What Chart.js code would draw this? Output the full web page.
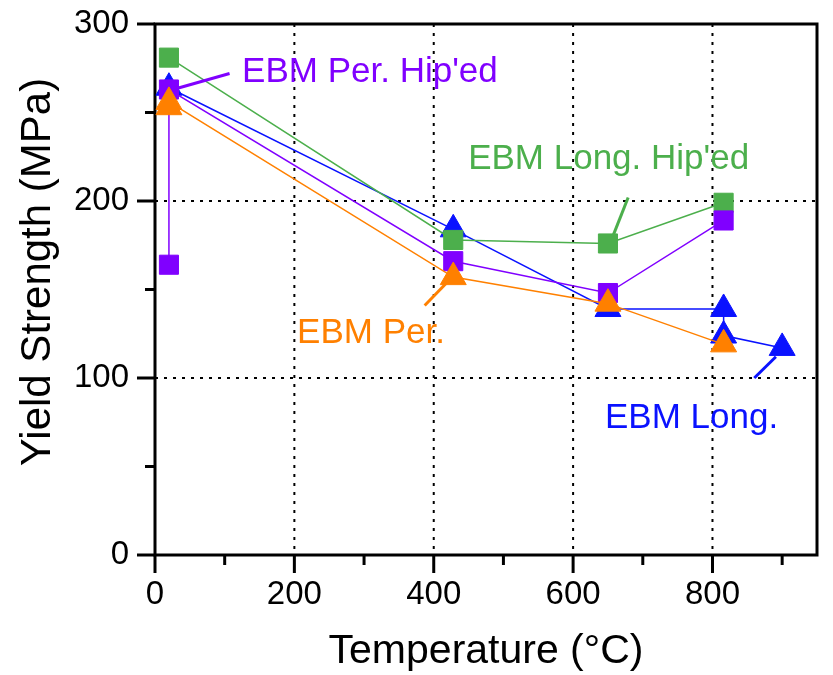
<!DOCTYPE html>
<html lang="en">
<head>
<meta charset="UTF-8">
<title>Yield strength vs temperature</title>
<script src="https://cdn.jsdelivr.net/npm/chart.js"></script>
<style>
  body { margin: 0; background: #fff; }
  canvas { display: block; }
</style>
</head>
<body>
<canvas id="ysChart" width="833" height="675"></canvas>
<script>
// yield strength (MPa) against test temperature (°C)
const longTemp = [20, 428, 650, 816, 816, 900];
const longYS   = [264, 184, 139, 139, 124, 117];

const longHipTemp = [20, 428, 650, 816];
const longHipYS   = [281, 178, 176, 199];

const perHipTemp = [20, 20, 428, 650, 816];
const perHipYS   = [164, 263, 166, 148, 189];

const perTemp = [20, 20, 428, 650, 816];
const perYS   = [253, 256, 157, 142, 119];

// tick values
const xMajor = [0, 200, 400, 600, 800];
const xMinor = [100, 300, 500, 700, 900];
const yMajor = [0, 100, 200, 300];
const yMinor = [50, 150, 250];

const xTitle = 'Temperature (°C)';
const yTitle = 'Yield Strength (MPa)';

const BLUE = '#0a12ff', GREEN = '#4caf4c', PURPLE = '#8000ff', ORANGE = '#ff8000';
const FONT = '"Liberation Sans", Arial, Helvetica, sans-serif';

// callout text with its leader line, both in data units
const callouts = [
  { text: "EBM Per. Hip'ed",  color: PURPLE, align: 'left',   at: [125, 267], from: [107, 272], to: [26, 263] },
  { text: "EBM Long. Hip'ed", color: GREEN,  align: 'center', at: [651, 218], from: [679, 202], to: [657, 180] },
  { text: 'EBM Per.',         color: ORANGE, align: 'center', at: [310, 120], from: [387, 141], to: [419, 154] },
  { text: 'EBM Long.',        color: BLUE,   align: 'center', at: [770, 72],  from: [860, 100], to: [891, 112] }
];

const pts = (xs, ys) => xs.map((v, i) => ({ x: v, y: ys[i] }));

function series(label, xs, ys, color, style, radius, order) {
  return {
    label, data: pts(xs, ys), order,
    borderColor: color, backgroundColor: color,
    borderWidth: 1.5, tension: 0,
    pointStyle: style, pointRadius: radius,
    pointBorderWidth: 1, pointBorderColor: color, pointBackgroundColor: color
  };
}

const leaders = callouts.map(c => ({
  label: c.text + ' leader',
  data: [{ x: c.from[0], y: c.from[1] }, { x: c.to[0], y: c.to[1] }],
  borderColor: c.color, borderWidth: 3, pointRadius: 0, order: 0
}));

function seg(ctx, x1, y1, x2, y2) {
  ctx.beginPath(); ctx.moveTo(x1, y1); ctx.lineTo(x2, y2); ctx.stroke();
}

// no label overhang padding, so the plot box keeps its size
function fixPadding(s) {
  s.paddingTop = s.paddingBottom = s.paddingLeft = s.paddingRight = 0;
}

// dotted grid, box frame, outward ticks, axis titles and callouts
const framePlugin = {
  id: 'frame',
  beforeDatasetsDraw(chart) {
    const { ctx, chartArea: a, scales: { x, y } } = chart;
    ctx.save();
    ctx.strokeStyle = '#000';
    ctx.lineWidth = 2;
    ctx.setLineDash([3, 6]);
    xMajor.filter(v => v > 0).forEach(v => {
      const px = x.getPixelForValue(v);
      seg(ctx, px, a.top, px, a.bottom);
    });
    yMajor.filter(v => v > 0 && v < 300).forEach(v => {
      const py = y.getPixelForValue(v);
      seg(ctx, a.left, py, a.right, py);
    });
    ctx.setLineDash([]);
    ctx.lineWidth = 3;
    ctx.strokeRect(a.left, a.top, a.right - a.left, a.bottom - a.top);
    xMajor.forEach(v => { const px = x.getPixelForValue(v); seg(ctx, px, a.bottom, px, a.bottom + 18); });
    xMinor.forEach(v => { const px = x.getPixelForValue(v); seg(ctx, px, a.bottom, px, a.bottom + 10); });
    yMajor.forEach(v => { const py = y.getPixelForValue(v); seg(ctx, a.left, py, a.left - 18, py); });
    yMinor.forEach(v => { const py = y.getPixelForValue(v); seg(ctx, a.left, py, a.left - 10, py); });

    ctx.fillStyle = '#000';
    ctx.textBaseline = 'alphabetic';
    ctx.textAlign = 'center';
    ctx.font = '41px ' + FONT;
    ctx.fillText(xTitle, (a.left + a.right) / 2, 663);
    ctx.save();
    ctx.translate(50, 272);
    ctx.rotate(-Math.PI / 2);
    ctx.font = '42px ' + FONT;
    ctx.fillText(yTitle, 0, 0);
    ctx.restore();
    ctx.restore();
  },
  afterDatasetsDraw(chart) {
    const { ctx, scales: { x, y } } = chart;
    ctx.save();
    ctx.font = '35px ' + FONT;
    ctx.textBaseline = 'alphabetic';
    callouts.forEach(c => {
      ctx.fillStyle = c.color;
      ctx.textAlign = c.align;
      ctx.fillText(c.text, x.getPixelForValue(c.at[0]), y.getPixelForValue(c.at[1]));
    });
    ctx.restore();
  }
};

new Chart(document.getElementById('ysChart'), {
  type: 'line',
  data: {
    datasets: [
      series('EBM Long.', longTemp, longYS, BLUE, 'triangle', 15, 4),
      series("EBM Long. Hip'ed", longHipTemp, longHipYS, GREEN, 'rect', 13.5, 3),
      series("EBM Per. Hip'ed", perHipTemp, perHipYS, PURPLE, 'rect', 13.5, 2),
      series('EBM Per.', perTemp, perYS, ORANGE, 'triangle', 15, 1),
      ...leaders
    ]
  },
  options: {
    responsive: false,
    animation: false,
    events: [],
    layout: { padding: { top: 24, right: 10, left: 0, bottom: 0 } },
    plugins: { legend: { display: false }, tooltip: { enabled: false } },
    scales: {
      x: {
        type: 'linear', min: 0, max: 950,
        afterFit: s => { fixPadding(s); s.height = 120; },
        afterBuildTicks: s => { s.ticks = xMajor.map(v => ({ value: v })); },
        grid: { display: false, drawTicks: false }, border: { display: false },
        ticks: { color: '#000', padding: 20, maxRotation: 0, font: { family: FONT, size: 33 } }
      },
      y: {
        type: 'linear', min: 0, max: 300,
        afterFit: s => { fixPadding(s); s.width = 155; },
        afterBuildTicks: s => { s.ticks = yMajor.map(v => ({ value: v })); },
        grid: { display: false, drawTicks: false }, border: { display: false },
        ticks: { color: '#000', padding: 26, font: { family: FONT, size: 33 } }
      }
    }
  },
  plugins: [framePlugin]
});
</script>
</body>
</html>
